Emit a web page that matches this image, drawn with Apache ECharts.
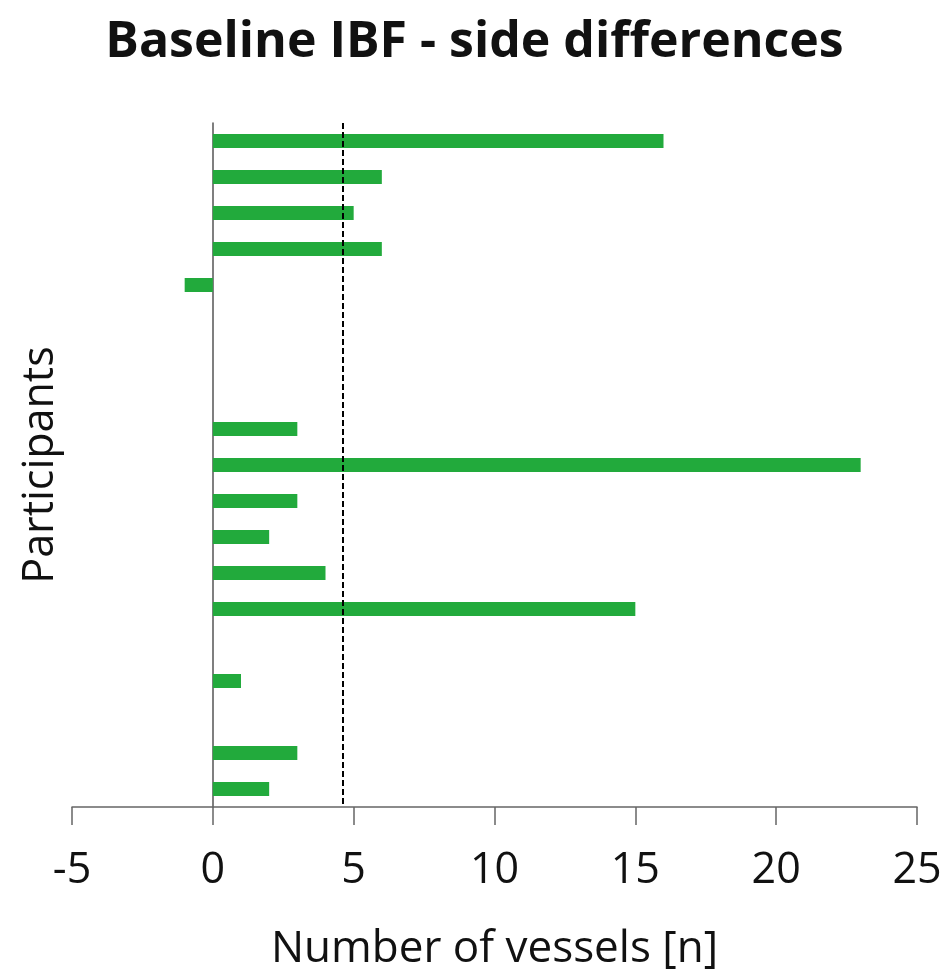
<!DOCTYPE html>
<html>
<head>
<meta charset="utf-8">
<script src="https://cdn.jsdelivr.net/npm/echarts@6/dist/echarts.min.js"></script>
<style>html,body{margin:0;padding:0;background:#fff}#c{width:949px;height:969px}</style>
</head>
<body>
<div id="c"></div>
<script>
var participants = ['P1','P2','P3','P4','P5','P6','P7','P8','P9','P10','P11','P12','P13','P14','P15','P16','P17','P18','P19'];
var vesselDiff = [16, 6, 5, 6, -1, 0, 0, 0, 3, 23, 3, 2, 4, 15, 0, 1, 0, 3, 2];
var meanValue = 4.63;
var xTicks = [-5, 0, 5, 10, 15, 20, 25];

var chart = echarts.init(document.getElementById('c'));
chart.setOption({
  animation: false,
  title: {
    text: 'Baseline IBF - side differences',
    left: 'center',
    top: 13,
    textStyle: { fontFamily: 'Open Sans', fontWeight: 'bold', fontSize: 50, color: '#111' }
  },
  grid: { left: 72, right: 32, top: 123, bottom: 162, containLabel: false, outerBoundsMode: 'none' },
  xAxis: {
    type: 'value',
    min: xTicks[0],
    max: xTicks[xTicks.length - 1],
    interval: 5,
    name: 'Number of vessels [n]',
    nameLocation: 'middle',
    nameGap: 120,
    nameTextStyle: { fontFamily: 'Open Sans', fontSize: 44, color: '#111' },
    axisLine: { show: true, onZero: false, lineStyle: { color: '#666', width: 1.5 } },
    axisTick: { show: true, length: 18, lineStyle: { color: '#666', width: 1.5 } },
    axisLabel: { fontFamily: 'Open Sans', fontSize: 43, color: '#111', margin: 42 },
    splitLine: { show: false }
  },
  yAxis: {
    type: 'category',
    data: participants,
    inverse: true,
    name: 'Participants',
    nameLocation: 'middle',
    nameGap: 10,
    nameRotate: 90,
    nameTextStyle: { fontFamily: 'Open Sans', fontSize: 43, color: '#111' },
    axisLine: { show: true, onZero: true, lineStyle: { color: '#555', width: 1.5 } },
    axisTick: { show: false },
    axisLabel: { show: false },
    splitLine: { show: false }
  },
  series: [{
    type: 'bar',
    data: vesselDiff,
    barWidth: 14,
    itemStyle: { color: '#22AA3C' },
    markLine: {
      silent: true,
      symbol: 'none',
      label: { show: false },
      lineStyle: { color: '#000', type: [6, 3], width: 2 },
      data: [{ xAxis: meanValue }]
    }
  }]
});
</script>
</body>
</html>
